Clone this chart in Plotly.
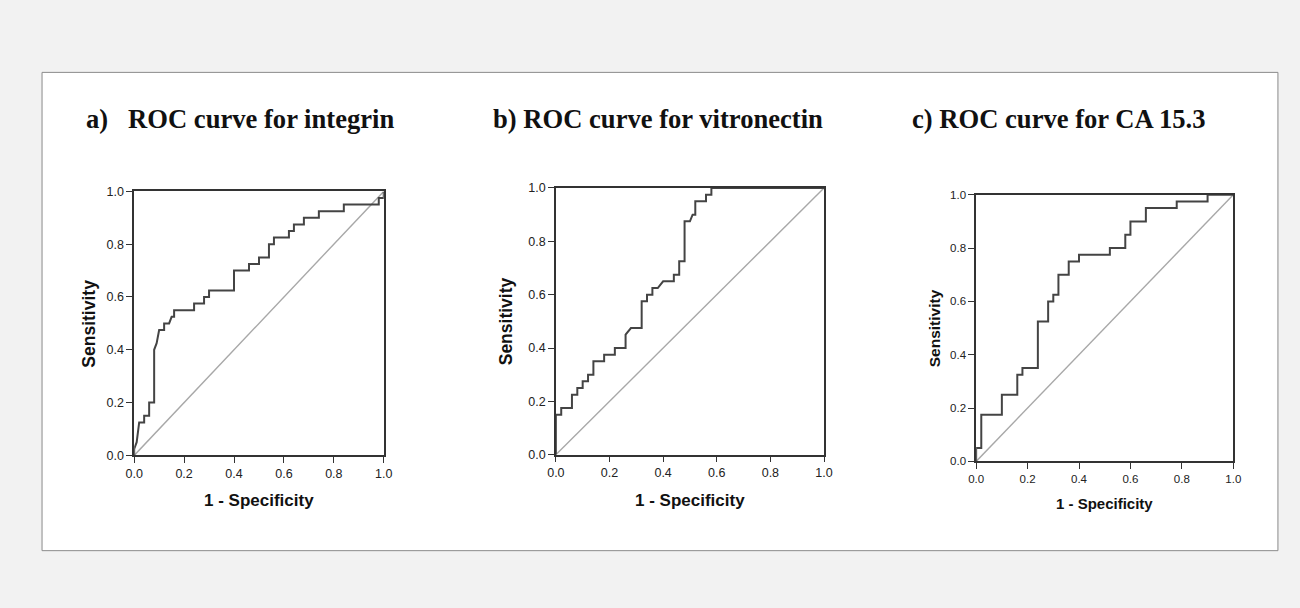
import plotly.graph_objects as go

# ---- data (1 - specificity, sensitivity) ----
titles = ["a)   ROC curve for integrin", "b) ROC curve for vitronectin", "c) ROC curve for CA 15.3"]
tick_vals = [0.0, 0.2, 0.4, 0.6, 0.8, 1.0]
tick_text = ["0.0", "0.2", "0.4", "0.6", "0.8", "1.0"]

integrin_fpr = [0, 0, 0.01, 0.02, 0.04, 0.04, 0.06, 0.06, 0.08, 0.08, 0.09, 0.1, 0.12, 0.12, 0.14, 0.15, 0.16, 0.16,
                0.24, 0.24, 0.28, 0.28, 0.3, 0.3, 0.4, 0.4, 0.46, 0.46, 0.5, 0.5, 0.54, 0.54, 0.56, 0.56,
                0.62, 0.62, 0.64, 0.64, 0.68, 0.68, 0.74, 0.74, 0.84, 0.84, 0.98, 0.98, 1.0, 1.0]
integrin_tpr = [0, 0.025, 0.05, 0.125, 0.125, 0.15, 0.15, 0.2, 0.2, 0.4, 0.425, 0.475, 0.475, 0.5, 0.5, 0.525, 0.525, 0.55,
                0.55, 0.575, 0.575, 0.6, 0.6, 0.625, 0.625, 0.7, 0.7, 0.725, 0.725, 0.75, 0.75, 0.8, 0.8, 0.825,
                0.825, 0.85, 0.85, 0.875, 0.875, 0.9, 0.9, 0.925, 0.925, 0.95, 0.95, 0.975, 0.975, 1.0]

vitro_fpr = [0, 0, 0.02, 0.02, 0.06, 0.06, 0.08, 0.08, 0.1, 0.1, 0.12, 0.12, 0.14, 0.14, 0.18, 0.18, 0.22, 0.22,
             0.26, 0.26, 0.28, 0.32, 0.32, 0.34, 0.34, 0.36, 0.36, 0.38, 0.4, 0.44, 0.44, 0.46, 0.46, 0.48, 0.48,
             0.5, 0.51, 0.52, 0.52, 0.56, 0.56, 0.58, 0.58, 1.0]
vitro_tpr = [0, 0.15, 0.15, 0.175, 0.175, 0.225, 0.225, 0.25, 0.25, 0.275, 0.275, 0.3, 0.3, 0.35, 0.35, 0.375, 0.375, 0.4,
             0.4, 0.45, 0.475, 0.475, 0.575, 0.575, 0.6, 0.6, 0.625, 0.625, 0.65, 0.65, 0.675, 0.675, 0.725, 0.725, 0.875,
             0.875, 0.9, 0.9, 0.95, 0.95, 0.975, 0.975, 1.0, 1.0]

ca_fpr = [0, 0, 0.02, 0.02, 0.1, 0.1, 0.16, 0.16, 0.18, 0.18, 0.24, 0.24, 0.28, 0.28, 0.3, 0.3, 0.32, 0.32,
          0.36, 0.36, 0.4, 0.4, 0.52, 0.52, 0.58, 0.58, 0.6, 0.6, 0.66, 0.66, 0.78, 0.78, 0.9, 0.9, 1.0]
ca_tpr = [0, 0.05, 0.05, 0.175, 0.175, 0.25, 0.25, 0.325, 0.325, 0.35, 0.35, 0.525, 0.525, 0.6, 0.6, 0.625, 0.625, 0.7,
          0.7, 0.75, 0.75, 0.775, 0.775, 0.8, 0.8, 0.85, 0.85, 0.9, 0.9, 0.95, 0.95, 0.975, 0.975, 1.0, 1.0]

ref_line = [0.0, 1.0]

curves = [(integrin_fpr, integrin_tpr), (vitro_fpr, vitro_tpr), (ca_fpr, ca_tpr)]

# ---- layout geometry ----
# Target positions are given in photographed-image pixels; the page shows the figure
# after an 8px body margin, photographed as a 1316x624 area shrunk to 1300x608.
W, H = 1300, 608
OFF = 8
SX, SY = 1300 / 1316, 608 / 624


def px(x):
    return (x / SX - OFF) / W


def py(y):
    return 1 - (y / SY - OFF) / H


panels = [  # left, right, top, bottom (image px), tick font, axis-title font, x-title gap, y-title gap
    (133.3, 383.3, 191.7, 455.0, 12.5, 17, 45, 45),
    (555.7, 824.3, 188.3, 454.3, 12.5, 17, 46, 50),
    (976.7, 1234.3, 195.0, 461.0, 11.5, 15, 42, 42),
]
title_pos = [(83, 119), (491, 119), (910, 119)]

fig = go.Figure()
layout = dict(
    width=W, height=H, margin=dict(l=0, r=0, t=0, b=0),
    paper_bgcolor="#f2f2f2", plot_bgcolor="white", showlegend=False,
    shapes=[dict(type="rect", xref="paper", yref="paper",
                 x0=px(41), x1=px(1279), y0=py(550), y1=py(73),
                 line=dict(color="#8a8a8a", width=1), fillcolor="white", layer="below")],
    annotations=[],
)

for i, ((l, r, t, b, tf, af, gx, gy), (fx, fy)) in enumerate(zip(panels, curves)):
    xa = "x" if i == 0 else f"x{i+1}"
    ya = "y" if i == 0 else f"y{i+1}"
    fig.add_trace(go.Scatter(x=ref_line, y=ref_line, mode="lines", xaxis=xa, yaxis=ya,
                             line=dict(color="#a8a8a8", width=1.4), hoverinfo="skip"))
    fig.add_trace(go.Scatter(x=fx, y=fy, mode="lines", xaxis=xa, yaxis=ya,
                             line=dict(color="#444444", width=2), hoverinfo="skip"))
    axcommon = dict(range=[0, 1], tickvals=tick_vals, ticktext=tick_text, showgrid=False, zeroline=False,
                    showline=True, linecolor="#333333", linewidth=1.5, mirror=True,
                    ticks="outside", ticklen=6, tickcolor="#333333", tickwidth=1.2,
                    tickfont=dict(family="Liberation Sans, Arial", size=tf, color="#222222"), fixedrange=True)
    layout["xaxis" if i == 0 else f"xaxis{i+1}"] = dict(axcommon, domain=[px(l), px(r)], anchor=ya)
    layout["yaxis" if i == 0 else f"yaxis{i+1}"] = dict(axcommon, domain=[py(b), py(t)], anchor=xa)
    # axis titles
    layout["annotations"].append(dict(
        text="<b>1 - Specificity</b>", xref="paper", yref="paper",
        x=px((l + r) / 2), y=py(b + gx), showarrow=False, xanchor="center", yanchor="middle",
        font=dict(family="Liberation Sans, Arial", size=af, color="#111111")))
    layout["annotations"].append(dict(
        text="<b>Sensitivity</b>", xref="paper", yref="paper", textangle=-90,
        x=px(l - gy), y=py((t + b) / 2), showarrow=False, xanchor="center", yanchor="middle",
        font=dict(family="Liberation Sans, Arial", size=af + 0.5, color="#111111")))
    # panel title
    layout["annotations"].append(dict(
        text="<b>" + titles[i].replace("   ", "&nbsp;&nbsp;&nbsp;") + "</b>", xref="paper", yref="paper",
        x=px(title_pos[i][0]), y=py(title_pos[i][1]), showarrow=False, xanchor="left", yanchor="middle",
        font=dict(family="Liberation Serif, Times New Roman", size=26.6, color="#111111")))

fig.update_layout(**layout)
fig.write_html("out.html", post_script="document.body.style.background='#f2f2f2';")
